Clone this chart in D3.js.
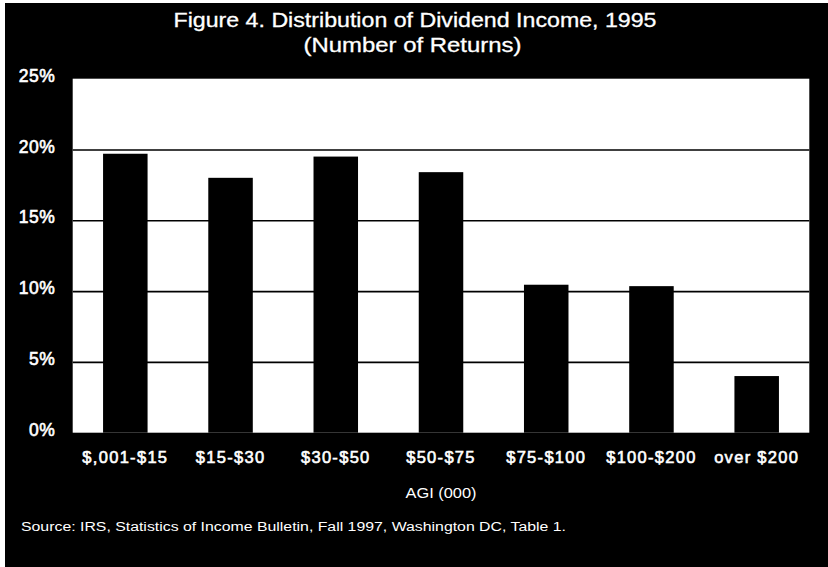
<!DOCTYPE html>
<html>
<head>
<meta charset="utf-8">
<script src="https://cdn.jsdelivr.net/npm/d3@7"></script>
<style>
  html, body { margin: 0; padding: 0; background: #fff; }
  svg { display: block; }
  text { font-family: "Liberation Sans", Arial, sans-serif; fill: #fff; }
</style>
</head>
<body>
<svg id="chart" width="828" height="567"></svg>
<script>
// AGI brackets (thousands of dollars) and share of returns reporting dividends
const categories = ["$,001-$15", "$15-$30", "$30-$50", "$50-$75", "$75-$100", "$100-$200", "over $200"];
const shareOfReturns = [19.7, 18.0, 19.5, 18.4, 10.45, 10.35, 4.0];
const yTicks = [0, 5, 10, 15, 20, 25];
const titleLines = ["Figure 4. Distribution of Dividend Income, 1995", "(Number of Returns)"];
const xAxisTitle = "AGI (000)";
const sourceNote = "Source: IRS, Statistics of Income Bulletin, Fall 1997, Washington DC, Table 1.";

const svg = d3.select("#chart");
const W = 828, H = 567;
const plot = { left: 72.7, right: 809.3, top: 78.7, bottom: 432.7 };

// black page panel
svg.append("rect").attr("x", 5).attr("y", 3).attr("width", W - 5).attr("height", H - 3).attr("fill", "#000");

const x = d3.scaleBand()
  .domain(categories)
  .range([plot.left, plot.right])
  .paddingInner(0.577)
  .paddingOuter(0.2885);

const y = d3.scaleLinear().domain([0, 25]).range([plot.bottom, plot.top]);

// white plotting area
svg.append("rect")
  .attr("x", plot.left).attr("y", y(25))
  .attr("width", plot.right - plot.left).attr("height", y(0) - y(25))
  .attr("fill", "#fff");

// horizontal gridlines
const grid = svg.append("g")
  .attr("transform", `translate(${plot.left},0)`)
  .call(d3.axisLeft(y).tickValues(yTicks.filter(d => d > 0 && d < 25))
    .tickSize(-(plot.right - plot.left)).tickFormat(""));
grid.select(".domain").remove();
grid.selectAll(".tick line").attr("stroke", "#000").attr("stroke-width", 1.6);

// bars
svg.append("g").selectAll("rect")
  .data(categories.map((c, i) => ({ c, v: shareOfReturns[i] })))
  .join("rect")
  .attr("x", d => x(d.c))
  .attr("width", x.bandwidth())
  .attr("y", d => y(d.v))
  .attr("height", d => y(0) - y(d.v))
  .attr("fill", "#000");

// y axis labels
const yAxis = svg.append("g")
  .attr("transform", `translate(${plot.left},0)`)
  .call(d3.axisLeft(y).tickValues(yTicks).tickSize(0).tickPadding(17.5).tickFormat(d => d + "%"));
yAxis.select(".domain").remove();
yAxis.selectAll("text")
  .attr("fill", "#fff")
  .attr("dy", "0.15em")
  .style("font-size", "17.5px")
  .style("stroke", "#fff").style("stroke-width", 0.6)
  .style("font-family", "'Liberation Sans', Arial, sans-serif")
  .style("letter-spacing", "0.5px");

// x axis labels
const xAxis = svg.append("g")
  .attr("transform", `translate(0,${plot.bottom})`)
  .call(d3.axisBottom(x).tickSize(0).tickPadding(19));
xAxis.select(".domain").remove();
xAxis.selectAll("text")
  .attr("fill", "#fff")
  .style("font-size", "16.5px")
  .style("stroke", "#fff").style("stroke-width", 0.6)
  .style("font-family", "'Liberation Sans', Arial, sans-serif")
  .style("letter-spacing", "1.3px");

// titles
svg.append("text")
  .attr("x", 415).attr("y", 27)
  .attr("text-anchor", "middle")
  .attr("textLength", 483).attr("lengthAdjust", "spacingAndGlyphs")
  .style("font-size", "21px")
  .style("stroke", "#fff").style("stroke-width", 0.3)
  .text(titleLines[0]);
svg.append("text")
  .attr("x", 412.5).attr("y", 52)
  .attr("text-anchor", "middle")
  .attr("textLength", 218).attr("lengthAdjust", "spacingAndGlyphs")
  .style("font-size", "21px")
  .style("stroke", "#fff").style("stroke-width", 0.3)
  .text(titleLines[1]);

svg.append("text")
  .attr("x", 441).attr("y", 498)
  .attr("text-anchor", "middle")
  .attr("textLength", 71).attr("lengthAdjust", "spacingAndGlyphs")
  .style("font-size", "14.5px")
  .text(xAxisTitle);

svg.append("text")
  .attr("x", 21).attr("y", 531)
  .attr("textLength", 545).attr("lengthAdjust", "spacingAndGlyphs")
  .style("font-size", "12.5px")
  .text(sourceNote);
</script>
</body>
</html>
